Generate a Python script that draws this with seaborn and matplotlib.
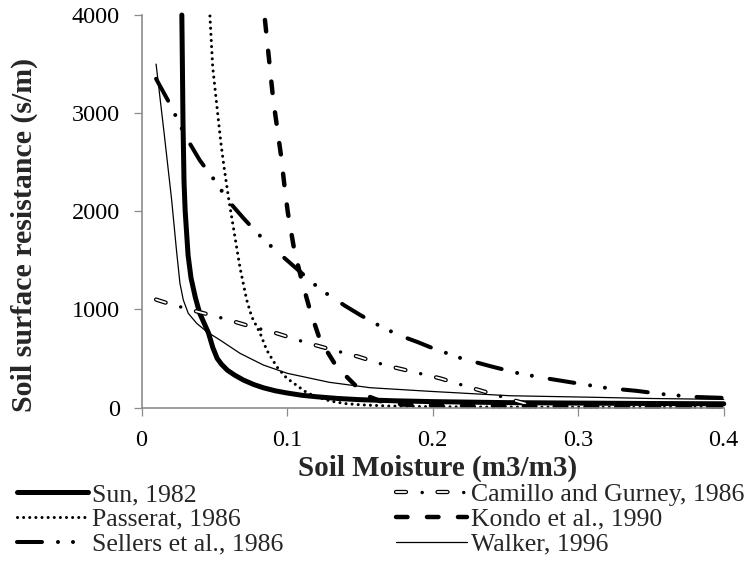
import matplotlib
matplotlib.use("Agg")
import matplotlib.pyplot as plt
import matplotlib.patheffects as pe
from matplotlib.legend_handler import HandlerTuple
import seaborn as sns

# Soil moisture (m3/m3) and soil surface resistance (s/m) for each parameterisation
sun_x = [0.0277, 0.0280, 0.0285, 0.0292, 0.030, 0.032, 0.034, 0.037, 0.040, 0.043,
         0.046, 0.049, 0.052, 0.055, 0.059, 0.064, 0.070, 0.077, 0.084, 0.092,
         0.100, 0.110, 0.120, 0.135, 0.150, 0.175, 0.200, 0.250, 0.300, 0.350, 0.400]
sun_y = [4000, 3600, 2900, 2300, 2000, 1550, 1320, 1120, 960, 860,
         760, 610, 500, 440, 380, 330, 280, 235, 200, 170,
         148, 125, 110, 92, 80, 68, 60, 50, 45, 41, 38]

camillo_x = [0.010, 0.018, 0.037, 0.056, 0.074, 0.093, 0.111, 0.129, 0.149, 0.167,
             0.186, 0.205, 0.224, 0.242, 0.251, 0.272]
camillo_y = [1100, 1062, 983, 909, 830, 756, 671, 596, 518, 433,
             365, 298, 212, 134, 94, 5]

passerat_x = [0.0470, 0.0489, 0.0523, 0.0545, 0.0567, 0.060, 0.0635, 0.0676, 0.0722,
              0.0757, 0.0814, 0.086, 0.0929, 0.0997, 0.109, 0.1137, 0.122, 0.130,
              0.140, 0.150, 0.170, 0.200, 0.250, 0.300, 0.350, 0.400]
passerat_y = [3990, 3470, 3000, 2700, 2450, 2115, 1800, 1430, 1100,
              925, 760, 586, 416, 300, 200, 150, 100, 65,
              40, 28, 15, 8, 5, 3, 2, 2]

kondo_x = [0.0848, 0.0905, 0.096, 0.0985, 0.1006, 0.105, 0.110, 0.1157, 0.1226,
           0.134, 0.1535, 0.165, 0.180, 0.200, 0.250, 0.300, 0.350, 0.400]
kondo_y = [3950, 3135, 2550, 2220, 1980, 1600, 1300, 994, 690,
           416, 128, 60, 30, 20, 15, 12, 10, 10]

sellers_x = [0.01, 0.02, 0.03, 0.04, 0.05, 0.06, 0.07, 0.08, 0.09, 0.10,
             0.11, 0.12, 0.13, 0.14, 0.15, 0.16, 0.17, 0.18, 0.19, 0.20,
             0.22, 0.24, 0.26, 0.28, 0.30, 0.32, 0.34, 0.36, 0.38, 0.40]
sellers_y = [3350, 3080, 2770, 2520, 2320, 2100, 1930, 1770, 1630, 1500,
             1370, 1240, 1130, 1035, 945, 860, 785, 720, 665, 605,
             500, 420, 345, 293, 245, 198, 170, 133, 108, 98]

walker_x = [0.010, 0.0155, 0.0207, 0.024, 0.0264, 0.0287, 0.0321, 0.0379, 0.0448,
            0.0539, 0.0677, 0.0837, 0.100, 0.129, 0.157, 0.198, 0.253, 0.308, 0.350, 0.400]
walker_y = [3500, 2800, 2115, 1605, 1266, 1096, 960, 858, 773,
            688, 552, 433, 349, 257, 202, 165, 120, 105, 92, 83]

labels = ["Sun, 1982", "Passerat, 1986", "Sellers et al., 1986",
          "Camillo and Gurney, 1986", "Kondo et al., 1990", "Walker, 1996"]

x_ticks = [0, 0.1, 0.2, 0.3, 0.4]
x_tick_labels = ["0", "0.1", "0.2", "0.3", "0.4"]
y_ticks = [0, 1000, 2000, 3000, 4000]
y_tick_labels = ["0", "1000", "2000", "3000", "4000"]

sns.set_style("ticks")
plt.rcParams["font.family"] = ["Liberation Serif", "DejaVu Serif"]
plt.rcParams["lines.scale_dashes"] = False

AXIS_GREY = "#8c8c8c"

fig = plt.figure(figsize=(7.56, 5.69), dpi=100)
ax = fig.add_axes([0.1872, 0.2838, 0.7701, 0.6898])


def draw(x, y, **kw):
    sns.lineplot(x=x, y=y, ax=ax, color="black", estimator=None, sort=False,
                 legend=False, **kw)
    line = ax.lines[-1]
    line.set_clip_on(False)
    return line


sun = draw(sun_x, sun_y, linewidth=3.6, solid_joinstyle="round")
cam_dash = draw(camillo_x, camillo_y, linewidth=1.3,
                linestyle=(0, (7.2, 22.7)), dash_capstyle="round")
cam_dash.set_color("white")
cam_dash.set_path_effects([pe.Stroke(linewidth=3.1, foreground="black"), pe.Normal()])
cam_dot = draw(camillo_x, camillo_y, linewidth=2.5,
               linestyle=(11.4, (0.01, 29.89)), dash_capstyle="round")
passerat = draw(passerat_x, passerat_y, linewidth=2.2,
                linestyle=(0, (0.01, 4.4)), dash_capstyle="round")
kondo = draw(kondo_x, kondo_y, linewidth=3.2,
             linestyle=(0, (8.3, 14.0)), dash_capstyle="round")
sellers = draw(sellers_x, sellers_y, linewidth=2.9,
               linestyle=(0, (18, 11.5, 0.01, 10.8, 0.01, 13)), dash_capstyle="round")
walker = draw(walker_x, walker_y, linewidth=0.9)

ax.set_xlim(0, 0.4)
ax.set_ylim(0, 4000)
ax.set_xticks(x_ticks, x_tick_labels)
ax.set_yticks(y_ticks, y_tick_labels)
ax.tick_params(axis="both", direction="out", length=5.5, width=0.9, color=AXIS_GREY,
               labelsize=17.5, labelcolor="black")
ax.tick_params(axis="y", pad=10)
ax.tick_params(axis="x", pad=11)
for side in ("top", "right"):
    ax.spines[side].set_visible(False)
for side in ("left", "bottom"):
    ax.spines[side].set_color(AXIS_GREY)
    ax.spines[side].set_linewidth(1.2)

ax.set_xlabel("Soil Moisture (m3/m3)", fontsize=21, fontweight="bold")
ax.set_ylabel("Soil surface resistance (s/m)", fontsize=21.5, fontweight="bold")
ax.xaxis.set_label_coords(0.509, -0.121)
ax.yaxis.set_label_coords(-0.178, 0.44)

legend_kw = dict(loc="upper left", frameon=False, borderaxespad=0, borderpad=0,
                 handlelength=2.75, handletextpad=0.16, labelspacing=0.075,
                 prop={"family": "Liberation Serif", "size": 18.5},
                 handler_map={tuple: HandlerTuple(ndivide=1)})
fig.legend([sun, passerat, sellers], labels[:3],
           bbox_to_anchor=(17 / 756, 1 - 483 / 569), **legend_kw)
fig.legend([(cam_dash, cam_dot), kondo, walker], labels[3:],
           bbox_to_anchor=(396 / 756, 1 - 483 / 569), **legend_kw)

fig.savefig("out.png", dpi=100)
